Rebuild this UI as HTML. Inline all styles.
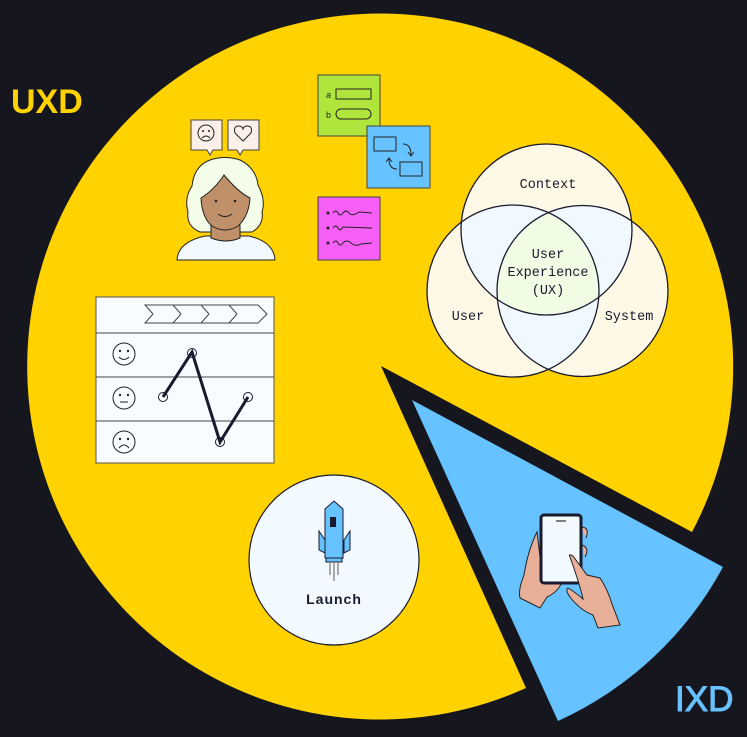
<!DOCTYPE html>
<html><head><meta charset="utf-8"><style>
html,body{margin:0;padding:0;background:#16161f;}
svg{display:block}
.m{font-family:"Liberation Mono",monospace;font-size:13.5px;fill:#1a1a2e;text-anchor:middle}
</style></head><body>
<svg width="747" height="737" viewBox="0 0 747 737" xmlns="http://www.w3.org/2000/svg">
<rect width="747" height="737" fill="#16161f"/>
<path d="M381,366 L526,688 A353,353 0 1,1 692,532 Z" fill="#ffd200"/>
<path d="M412,400 L558,721 A353,353 0 0,0 723,567 Z" fill="#66c3ff"/>
<text x="11" y="113" font-family="Liberation Sans,sans-serif" font-weight="bold" font-size="34" fill="#ffd200">UXD</text>
<text x="675" y="711" font-family="Liberation Sans,sans-serif" font-size="35" fill="#66c3ff" stroke="#66c3ff" stroke-width="1">IXD</text>

<!-- Venn -->
<defs>
<clipPath id="cC"><circle cx="546.5" cy="229.5" r="85.5"/></clipPath>
<clipPath id="cU"><circle cx="513" cy="291" r="86"/></clipPath>
<clipPath id="cS"><circle cx="582.5" cy="291" r="85.5"/></clipPath>
</defs>
<g fill="#fef8e6"><circle cx="546.5" cy="229.5" r="85.5"/><circle cx="513" cy="291" r="86"/><circle cx="582.5" cy="291" r="85.5"/></g>
<g fill="#f0f9ff">
<circle cx="513" cy="291" r="86" clip-path="url(#cC)"/>
<circle cx="582.5" cy="291" r="85.5" clip-path="url(#cC)"/>
<circle cx="582.5" cy="291" r="85.5" clip-path="url(#cU)"/>
</g>
<g clip-path="url(#cC)"><circle cx="582.5" cy="291" r="85.5" fill="#f0fce4" clip-path="url(#cU)"/></g>
<g fill="none" stroke="#1a1a2e" stroke-width="1.3"><circle cx="546.5" cy="229.5" r="85.5"/><circle cx="513" cy="291" r="86"/><circle cx="582.5" cy="291" r="85.5"/></g>
<text class="m" x="548" y="188">Context</text>
<text class="m" x="548" y="258">User</text>
<text class="m" x="548" y="276">Experience</text>
<text class="m" x="548" y="294">(UX)</text>
<text class="m" x="468" y="320">User</text>
<text class="m" x="629" y="320">System</text>

<!-- Launch -->
<circle cx="334" cy="560" r="85" fill="#f3faff" stroke="#1a1a2e" stroke-width="1.2"/>
<g stroke="#1a1a2e" stroke-width="1" fill="#66c3ff">
<path d="M319,531 L325,540 L325,553 L319,550 Z"/>
<path d="M350,531 L344,540 L344,553 L350,550 Z"/>
<path d="M325,509 L334,501 L343,509 L343,558 L325,558 Z"/>
<rect x="326" y="558" width="16" height="4"/>
</g>
<rect x="330" y="517" width="6" height="10" fill="#1a1a2e"/>
<g stroke="#555" stroke-width="1"><line x1="330" y1="563" x2="330" y2="575"/><line x1="334" y1="563" x2="334" y2="581"/><line x1="338" y1="563" x2="338" y2="575"/></g>
<text x="334" y="604" font-family="Liberation Sans,sans-serif" font-weight="bold" font-size="14" fill="#1a1a2e" text-anchor="middle" letter-spacing="1">Launch</text>

<!-- Journey chart -->
<rect x="96" y="297" width="178" height="166" fill="#f8fbff" stroke="#555" stroke-width="1"/>
<g stroke="#444" stroke-width="1"><line x1="96" y1="333" x2="274" y2="333"/><line x1="96" y1="377" x2="274" y2="377"/><line x1="96" y1="421" x2="274" y2="421"/></g>
<path d="M145,305 L258,305 L267,314 L258,323 L145,323 L153,314 Z" fill="none" stroke="#444"/>
<g fill="none" stroke="#444"><path d="M173,305 L181,314 L173,323"/><path d="M201,305 L209,314 L201,323"/><path d="M229,305 L237,314 L229,323"/></g>
<g fill="none" stroke="#222" stroke-width="1">
<circle cx="124" cy="354" r="11"/><circle cx="124" cy="398" r="11"/><circle cx="124" cy="442" r="11"/>
<path d="M119,357 Q124,362 129,357"/><line x1="120" y1="402" x2="128" y2="402"/><path d="M119,448 Q124,442 129,448"/>
</g>
<g fill="#222"><circle cx="120" cy="351" r="1.2"/><circle cx="128" cy="351" r="1.2"/><circle cx="120" cy="395" r="1.2"/><circle cx="128" cy="395" r="1.2"/><circle cx="120" cy="439" r="1.2"/><circle cx="128" cy="439" r="1.2"/></g>
<polyline points="163,397 192,352 220,442 248,397" fill="none" stroke="#1a1a2e" stroke-width="3"/>
<g fill="none" stroke="#1a1a2e"><circle cx="163" cy="397" r="4.5"/><circle cx="192" cy="353" r="4.5"/><circle cx="220" cy="442" r="4.5"/><circle cx="248" cy="397" r="4.5"/></g>

<!-- Sticky notes -->
<rect x="318" y="75" width="62" height="61" fill="#b0e63c" stroke="#444"/>
<text x="326" y="98" font-family="Liberation Sans,sans-serif" font-style="italic" font-size="9" fill="#222">a</text>
<text x="326" y="118" font-family="Liberation Sans,sans-serif" font-size="9" fill="#222">b</text>
<rect x="336" y="89" width="35" height="10" fill="none" stroke="#222"/>
<rect x="336" y="109" width="35" height="10" rx="5" fill="none" stroke="#222"/>
<rect x="367" y="126" width="63" height="62" fill="#66c3ff" stroke="#444"/>
<rect x="374" y="137" width="22" height="14" fill="none" stroke="#222"/>
<rect x="400" y="162" width="22" height="14" fill="none" stroke="#222"/>
<path d="M403,144 Q411,144 411,155 M408,152 L411,156 L414,152 M397,169 Q389,169 389,159 M386,162 L389,158 L392,162" fill="none" stroke="#222"/>
<rect x="318" y="197" width="62" height="63" fill="#f760f7" stroke="#444"/>
<g fill="#222"><circle cx="328" cy="213" r="1.5"/><circle cx="328" cy="228" r="1.5"/><circle cx="328" cy="243" r="1.5"/></g>
<g fill="none" stroke="#222" stroke-width="1"><path d="M333,213 q3,-4 5,0 t5,0 t6,0 t10,-1 L372,213"/><path d="M333,228 q3,-4 5,0 t5,-1 L372,228"/><path d="M333,243 q3,-4 5,0 t5,0 t8,0 t10,1 L372,243"/></g>

<!-- Person -->
<path d="M191,120 h31 v30 h-9 l-3,5 l-3,-5 h-16 Z" fill="#fdf0e8" stroke="#444"/>
<path d="M228,120 h31 v30 h-16 l-3,5 l-3,-5 h-9 Z" fill="#fdf0e8" stroke="#444"/>
<circle cx="206" cy="133" r="8" fill="none" stroke="#222"/>
<circle cx="203" cy="131" r="1" fill="#222"/><circle cx="209" cy="131" r="1" fill="#222"/>
<path d="M202,138 Q206,134 210,138" fill="none" stroke="#222"/>
<path d="M243,141 L235,133 Q233,126 239,126 Q242,126 243,129 Q244,126 247,126 Q253,126 251,133 Z" fill="none" stroke="#222"/>
<path d="M210,160 Q225,155 240,160 Q256,168 258,185 Q266,200 262,212 Q264,225 252,232 L200,232 Q186,226 188,212 Q184,198 192,186 Q194,166 210,160 Z" fill="#f3fde8" stroke="#222"/>
<path d="M177,260 Q178,242 205,236 L249,236 Q274,242 275,260 Z" fill="#f3faff" stroke="#222"/>
<path d="M211,222 L211,238 Q226,244 240,238 L240,222 Z" fill="#c0906a" stroke="#222"/>
<path d="M224,175 Q214,190 201,198 Q202,218 212,226 Q225,234 238,226 Q249,216 250,198 Q238,192 224,175 Z" fill="#c0906a" stroke="#222"/>
<circle cx="216" cy="201" r="1.3" fill="#222"/><circle cx="235" cy="201" r="1.3" fill="#222"/>
<path d="M218,214 Q225,219 232,214" fill="none" stroke="#222"/>

<!-- Phone and hands -->
<path d="M537,532 Q528,550 524,575 Q518,590 520,598 L540,608 L547,597 Q558,592 562,582 L543,582 Z" fill="#e8b098" stroke="#222"/>
<path d="M581,527 Q590,527 586,538 M582,545 Q590,548 585,557" fill="#e8b098" stroke="#222"/>
<rect x="541" y="515" width="40" height="68" rx="3" fill="#f3faff" stroke="#1a1a2e" stroke-width="3"/>
<line x1="556" y1="521" x2="566" y2="521" stroke="#555" stroke-width="1.5"/>
<path d="M570,557 Q568,553 573,556 L587,575 L600,578 Q608,590 612,604 L620,625 L598,628 L593,615 Q580,610 570,597 Q565,590 568,588 Q575,592 583,599 Q580,585 570,557 Z" fill="#e8b098" stroke="#222"/>
</svg>
</body></html>
